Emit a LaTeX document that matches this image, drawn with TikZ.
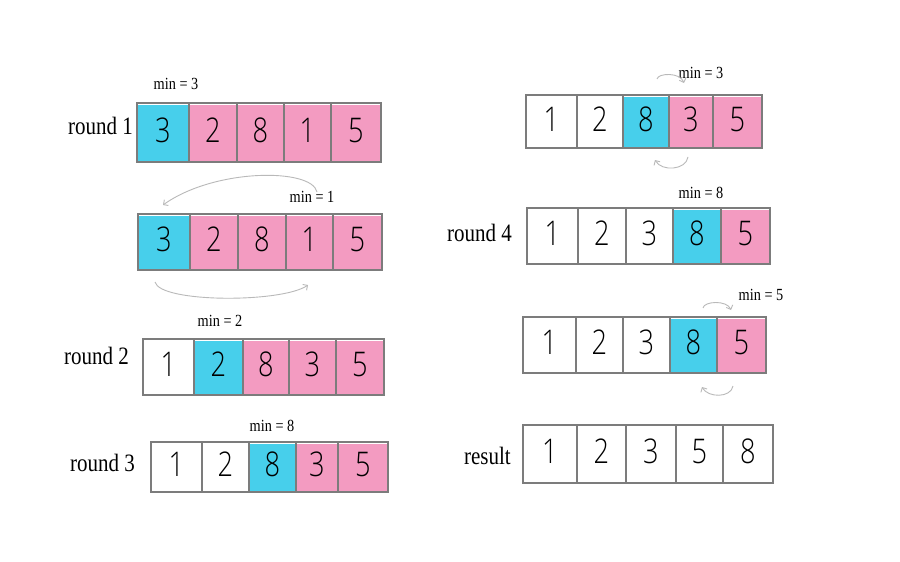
\documentclass[tikz,border=0pt]{standalone}
\usepackage{fontspec}
\usetikzlibrary{arrows.meta,calc}
\IfFontExistsTF{Open Sans Light}{\newfontfamily\digitfont[FakeStretch=0.8]{Open Sans Light}}{\newfontfamily\digitfont[FakeStretch=0.8]{Open Sans}}
\newfontfamily\labelfont[FakeStretch=0.84]{Liberation Serif}
\definecolor{blu}{HTML}{47CFEB}
\definecolor{pnk}{HTML}{F39BC1}
\definecolor{edge}{HTML}{7C7C7C}
\tikzset{
  cellnode/.style={draw=edge, line width=1.1pt, inner sep=0pt, text height=26pt, text depth=7pt,
    font=\digitfont\fontsize{34}{34}\selectfont},
  roundlbl/.style={font=\labelfont\fontsize{25}{25}\selectfont, inner sep=0pt, anchor=east},
  minlbl/.style={font=\labelfont\fontsize{17}{17}\selectfont, inner sep=0pt},
  arc/.style={draw=gray!55, line width=0.9pt, -{Straight Barb[length=3.5pt,width=7pt]}}
}
\newcommand{\drawrow}[4]{%
  \foreach \xa/\xb/\dg/\cl [count=\i] in {#4} {
    \path[fill=\cl] (\xa+1.2,#2+1.5) rectangle (\xb-1.2,#3-1.5);
    \node[cellnode, minimum width={(\xb-\xa)*1pt}, minimum height={(#3-#2)*1pt}]
      (#1\i) at ({(\xa+\xb)/2},{(#2+#3)/2}) {\dg};
  }%
}
\begin{document}
\begin{tikzpicture}[x=1pt,y=-1pt]
\useasboundingbox[fill=white] (0,0) rectangle (900,562);

% left column
\drawrow{a}{103}{162}{137/189/3/blu, 189/237/2/pnk, 237/284/8/pnk, 284/331/1/pnk, 331/381/5/pnk}
\drawrow{b}{214}{270}{138/190/3/blu, 190/238/2/pnk, 238/286/8/pnk, 286/333/1/pnk, 333/382/5/pnk}
\drawrow{c}{339}{395}{143/194/1/none, 194/243/2/blu, 243/289/8/pnk, 289/336/3/pnk, 336/384/5/pnk}
\drawrow{d}{442}{492}{151/202/1/none, 202/249/2/none, 249/296/8/blu, 296/338/3/pnk, 338/388/5/pnk}

% right column
\drawrow{e}{95}{148}{526/577/1/none, 577/623/2/none, 623/669/8/blu, 669/713/3/pnk, 713/762/5/pnk}
\drawrow{f}{208}{264}{527/578/1/none, 578/626/2/none, 626/673/3/none, 673/721/8/blu, 721/770/5/pnk}
\drawrow{g}{317}{373}{523/576/1/none, 576/623/2/none, 623/670/3/none, 670/717/8/blu, 717/766/5/pnk}
\drawrow{h}{425}{483}{523/577/1/none, 577/626/2/none, 626/676/3/none, 676/723/5/none, 723/773/8/none}

% row labels
\node[roundlbl] (lr1) at (133,126) {round 1};
\node[roundlbl] (lr2) at (129,356) {round 2};
\node[roundlbl] (lr3) at (135,463) {round 3};
\node[roundlbl] (lr4) at (512,233) {round 4};
\node[roundlbl] (lres) at (511,456) {result};

% min labels
\node[minlbl] (ma) at (176,84) {min = 3};
\node[minlbl] (mb) at (312,197) {min = 1};
\node[minlbl] (mc) at (220,321) {min = 2};
\node[minlbl] (md) at (272,426) {min = 8};
\node[minlbl] (me) at (701,73) {min = 3};
\node[minlbl] (mf) at (701,193) {min = 8};
\node[minlbl] (mg) at (761,295) {min = 5};

% swap arrows
\coordinate (b4s) at (317,192);
\coordinate (b1e) at (163,205);
\coordinate (b1s) at (155,282);
\coordinate (b4e) at (308,285);
\draw[arc] (b4s) .. controls (312,168) and (215,168) .. (b1e);
\draw[arc] (b1s) .. controls (160,303) and (282,303) .. (b4e);

\coordinate (e3s) at (657,79);
\coordinate (e4e) at (684,83);
\coordinate (e4s) at (688,157);
\coordinate (e3e) at (655,160);
\draw[arc] (e3s) .. controls (658,73) and (680,72) .. (e4e);
\draw[arc] (e4s) .. controls (686,170) and (662,172) .. (e3e);

\coordinate (g4s) at (703,308);
\coordinate (g5e) at (731,310);
\coordinate (g5s) at (733,386);
\coordinate (g4e) at (702,387);
\draw[arc] (g4s) .. controls (704,301) and (727,300) .. (g5e);
\draw[arc] (g5s) .. controls (731,398) and (708,398) .. (g4e);
\end{tikzpicture}
\end{document}
